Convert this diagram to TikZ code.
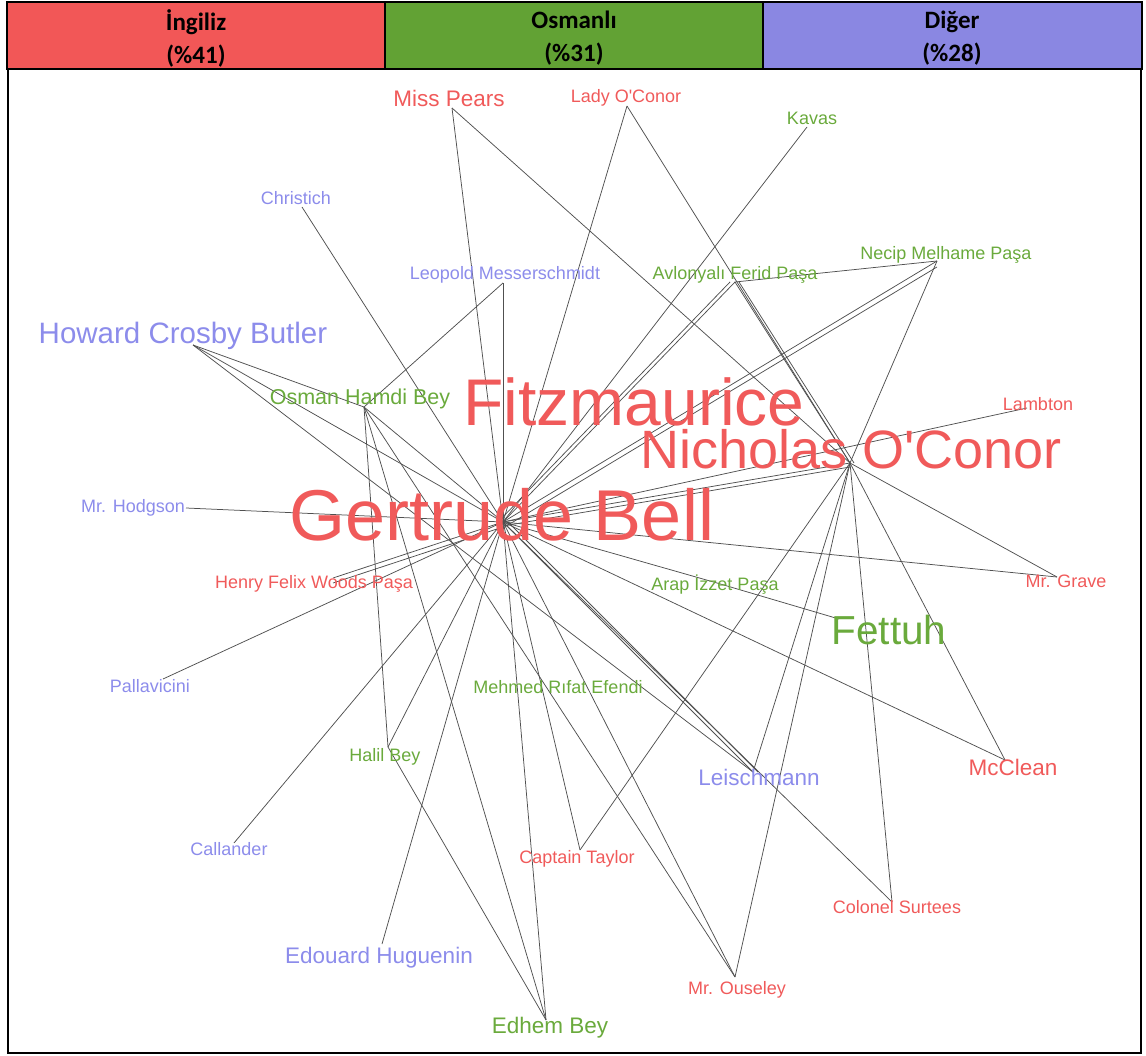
\documentclass[tikz,border=0pt]{standalone}
\usepackage{fontspec}
\setmainfont{Liberation Sans}[Ligatures=TeXOff]
\newfontfamily\hdrfont{Carlito}
\definecolor{hred}{HTML}{F25757}
\definecolor{hgreen}{HTML}{62A234}
\definecolor{hblue}{HTML}{8A87E2}
\definecolor{enred}{HTML}{F05A5A}
\definecolor{osgreen}{HTML}{6AAA3C}
\definecolor{otblue}{HTML}{8C8CEB}
\definecolor{edgegray}{HTML}{505050}
\tikzset{
  lbl/.style={inner sep=0pt, anchor=base},
  en/.style={text=enred}, osm/.style={text=osgreen}, oth/.style={text=otblue},
  fs/.style={font=\fontsize{#1}{#1}\selectfont},
  edge/.style={draw=edgegray, line width=0.75pt},
  hdr/.style={inner sep=0pt, align=center, font=\hdrfont\bfseries\fontsize{25}{33}\selectfont}
}
\begin{document}
\begin{tikzpicture}[x=1pt,y=-1pt]
\useasboundingbox (0,0) rectangle (1146,1056);
% ---------- header ----------
\fill[hred] (7,2) rectangle (385,69);
\fill[hgreen] (385,2) rectangle (763,69);
\fill[hblue] (763,2) rectangle (1142,69);
\draw[line width=1.5pt] (7,2) rectangle (1142,69);
\draw[line width=1.2pt] (385,2) -- (385,69) (763,2) -- (763,69);
\node[hdr] (h1) at (196,38) {İngiliz\\(\%41)};
\node[hdr] (h2) at (574,38) {Osmanlı\\(\%31)};
\node[hdr] (h3) at (952,38) {Diğer\\(\%28)};
% ---------- body frame ----------
\draw[line width=2.5pt] (8,69) -- (8,1053) -- (1141,1053) -- (1141,69);
% ---------- anchors ----------
\coordinate (G) at (503,522);
\coordinate (N) at (850,463);
\coordinate (pears) at (452,108);
\coordinate (lady) at (627,106);
\coordinate (kavas) at (807,127);
\coordinate (christich) at (302,207);
\coordinate (leopold) at (503,283);
\coordinate (avlon) at (735,282);
\coordinate (necip) at (937,261);
\coordinate (lambton) at (1027,408);
\coordinate (hcb) at (193,345);
\coordinate (osman) at (364,407);
\coordinate (hodgson) at (186,508);
\coordinate (hfw) at (333,578);
\coordinate (arap) at (717,583);
\coordinate (grave) at (1057,577);
\coordinate (fettuh) at (839,619);
\coordinate (palla) at (163,679);
\coordinate (halil) at (388,747);
\coordinate (callander) at (234,843);
\coordinate (huguenin) at (382,944);
\coordinate (edhem) at (546,1020);
\coordinate (taylor) at (580,850);
\coordinate (ouseley) at (735,977);
\coordinate (leisch) at (753,772);
\coordinate (surtees) at (892,902);
\coordinate (mcclean) at (1005,760);
% ---------- edges ----------
\foreach \a/\b in {G/pears, N/pears, G/lady, N/lady, G/kavas, G/christich,
  G/leopold, osman/leopold, G/avlon, N/avlon, necip/avlon, G/necip, N/necip,
  G/lambton, G/hcb, osman/hcb, leisch/hcb, G/osman, osman/halil, osman/edhem,
  osman/ouseley, G/hodgson, G/hfw, G/palla, G/callander, G/halil, halil/edhem,
  G/huguenin, G/edhem, G/taylor, N/taylor, G/ouseley, N/ouseley, G/leisch,
  N/leisch, G/surtees, N/surtees, G/mcclean, N/mcclean, G/grave, N/grave,
  G/arap, arap/fettuh, G/N}
  \draw[edge] (\a) -- (\b);
% doubled edges
\draw[edge, transform canvas={yshift=-4pt}] (G) -- (N);
\draw[edge, transform canvas={xshift=4pt}] (N) -- (avlon);
\draw[edge, transform canvas={xshift=-5pt}] (G) -- (avlon);
\draw[edge, transform canvas={yshift=-6pt}] (G) -- (necip);
\draw[edge, transform canvas={yshift=-5pt}] (G) -- (hfw);
\draw[edge, transform canvas={xshift=5pt}] (G) -- (leisch);
% ---------- labels ----------
\node[lbl, en, fs=72] (gb) at (502,540) {Gertrude Bell};
\node[lbl, en, fs=66] (fitz) at (634,426) {Fitzmaurice};
\node[lbl, en, fs=54] (noc) at (851,468) {Nicholas O'Conor};
\node[lbl, osm, fs=40.5] (lfettuh) at (889,644) {Fettuh};
\node[lbl, oth, fs=29.5] (lhcb) at (183,344) {Howard Crosby Butler};
\node[lbl, oth, fs=22.5] (lhug) at (379,963) {Edouard Huguenin};
\node[lbl, osm, fs=22.5] (ledhem) at (550,1033) {Edhem Bey};
\node[lbl, oth, fs=22.5] (lleisch) at (759,785) {Leischmann};
\node[lbl, en, fs=22.5] (lmcc) at (1013,775) {McClean};
\node[lbl, en, fs=22.5] (lpears) at (449,107) {Miss Pears};
\node[lbl, osm, fs=21.5] (losman) at (360,405) {Osman Hamdi Bey};
\node[lbl, en, fs=18] (llady) at (626,103) {Lady O'Conor};
\node[lbl, osm, fs=18] (lkavas) at (812,125) {Kavas};
\node[lbl, oth, fs=18] (lchr) at (296,205) {Christich};
\node[lbl, oth, fs=18] (lleo) at (505,280) {Leopold Messerschmidt};
\node[lbl, osm, fs=18] (lavl) at (735,280) {Avlonyalı Ferid Paşa};
\node[lbl, osm, fs=18] (lnec) at (946,260) {Necip Melhame Paşa};
\node[lbl, en, fs=18] (llam) at (1038,410) {Lambton};
\node[lbl, oth, fs=18] (lhod) at (133,512) {Mr. Hodgson};
\node[lbl, en, fs=18] (lhfw) at (314,588) {Henry Felix Woods Paşa};
\node[lbl, osm, fs=18] (larap) at (715,590) {Arap İzzet Paşa};
\node[lbl, en, fs=18] (lgrave) at (1066,587) {Mr. Grave};
\node[lbl, oth, fs=18] (lpal) at (150,692) {Pallavicini};
\node[lbl, osm, fs=18] (lmeh) at (558,693) {Mehmed Rıfat Efendi};
\node[lbl, osm, fs=18] (lhal) at (385,761) {Halil Bey};
\node[lbl, oth, fs=18] (lcal) at (229,855) {Callander};
\node[lbl, en, fs=18] (ltay) at (577,863) {Captain Taylor};
\node[lbl, en, fs=18] (lsur) at (897,913) {Colonel Surtees};
\node[lbl, en, fs=18] (lous) at (737,994) {Mr. Ouseley};
\end{tikzpicture}
\end{document}
